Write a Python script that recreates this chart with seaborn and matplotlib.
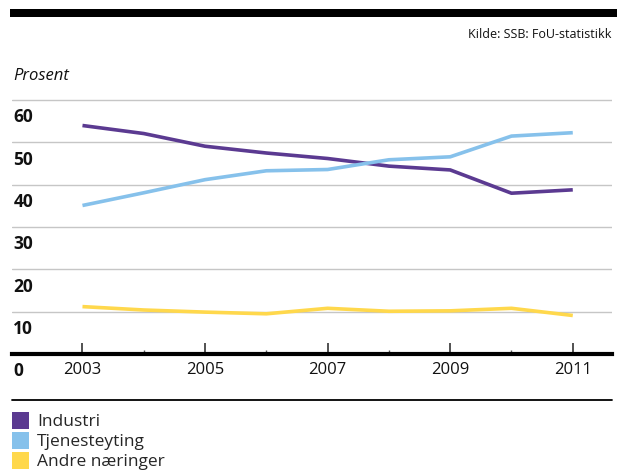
import numpy as np
import pandas as pd
import seaborn as sns
import matplotlib
matplotlib.use("Agg")
import matplotlib.pyplot as plt
import matplotlib.transforms as mtransforms
from matplotlib.patches import Patch, Rectangle
from matplotlib.lines import Line2D

years = [2003, 2004, 2005, 2006, 2007, 2008, 2009, 2010, 2011]
industri = [54.0, 52.1, 49.1, 47.5, 46.2, 44.4, 43.5, 38.0, 38.8]
tjenesteyting = [35.1, 38.1, 41.2, 43.3, 43.6, 45.9, 46.6, 51.5, 52.3]
andre = [11.2, 10.4, 9.9, 9.5, 10.8, 10.1, 10.2, 10.8, 9.1]
series_names = ["Industri", "Tjenesteyting", "Andre næringer"]
colors = ["#5b3a91", "#86c1eb", "#ffd84c"]
y_ticks = [0, 10, 20, 30, 40, 50, 60]
x_ticks = [2003, 2005, 2007, 2009, 2011]

df = pd.DataFrame({
    "År": years * 3,
    "Prosent": industri + tjenesteyting + andre,
    "Næring": [series_names[0]] * 9 + [series_names[1]] * 9 + [series_names[2]] * 9,
})

sns.set_theme(style="white")
plt.rcParams["font.family"] = ["Open Sans", "DejaVu Sans"]

W, H = 617, 475
fig = plt.figure(figsize=(W / 100, H / 100), dpi=100)

ax_left, ax_right = 12, 612
ax_bottom, ax_top = 354, 98
ax = fig.add_axes([ax_left / W, 1 - ax_bottom / H,
                   (ax_right - ax_left) / W, (ax_bottom - ax_top) / H])

sns.lineplot(data=df, x="År", y="Prosent", hue="Næring", palette=colors,
             linewidth=2.6, ax=ax, legend=False, solid_capstyle="butt")

ax.set_xlim(2001.85, 2011.64)
ax.set_ylim(0, 60.5)

# horizontal gridlines
for v in y_ticks[1:]:
    ax.axhline(v, color="#c6c6c6", linewidth=1.0, zorder=0)

for s in ["left", "right", "top"]:
    ax.spines[s].set_visible(False)
ax.spines["bottom"].set_linewidth(3.0)
ax.spines["bottom"].set_color("black")
ax.spines["bottom"].set_zorder(5)

ax.set_xticks(x_ticks)
ax.set_xticks([2004, 2006, 2008, 2010], minor=True)
ax.tick_params(axis="x", which="major", direction="in", length=8, width=1.2,
               color="#333333", labelsize=12, pad=6, labelcolor="#111111", bottom=True)
ax.tick_params(axis="x", which="minor", direction="in", length=3, width=1.0,
               color="#555555", bottom=True)
ax.set_yticks([])
ax.set_xlabel("")
ax.set_ylabel("")

# y labels sit just under their gridline, left-aligned
for v in y_ticks:
    off = mtransforms.offset_copy(ax.get_yaxis_transform(), fig=fig, x=1, y=-6, units="points")
    ax.text(0, v, str(v), transform=off, ha="left", va="top",
            fontsize=12.5, fontweight="bold", color="#111111")

# header
fig.add_artist(Rectangle((10 / W, 1 - 17 / H), 1 - 10 / W, 8 / H,
                         transform=fig.transFigure, facecolor="black", edgecolor="none"))
fig.text(612 / W, 1 - 34 / H, "Kilde: SSB: FoU-statistikk", ha="right", va="center",
         fontsize=9, color="#111111")
fig.text(13 / W, 1 - 76 / H, "Prosent", ha="left", va="center",
         fontsize=12, style="italic", color="#111111")

# legend
fig.add_artist(Line2D([12 / W, 612 / W], [1 - 400 / H, 1 - 400 / H], color="black", linewidth=1.3))
handles = [Patch(facecolor=c, edgecolor="none") for c in colors]
fig.legend(handles, series_names, loc="upper left", bbox_to_anchor=(12 / W, 1 - 412 / H),
           frameon=False, fontsize=12.5, handlelength=1.0, handleheight=1.1,
           handletextpad=0.45, labelspacing=0.1, borderaxespad=0, borderpad=0)

fig.savefig("out.png", dpi=100)
